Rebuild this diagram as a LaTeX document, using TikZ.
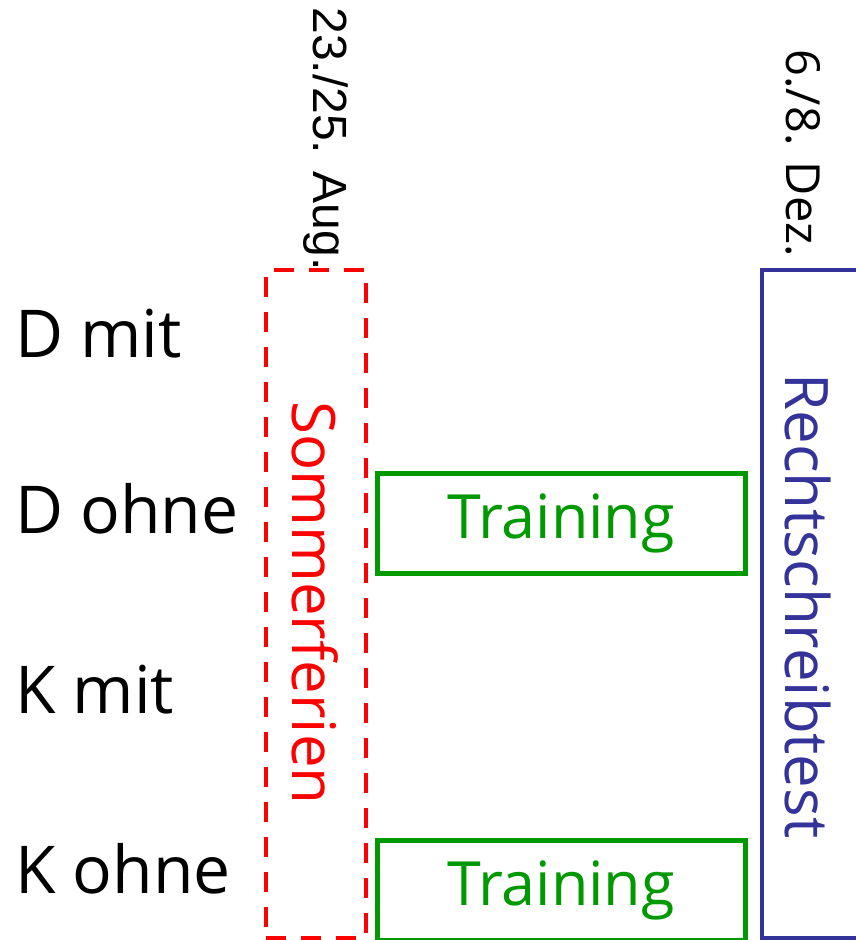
\documentclass[tikz,border=0pt]{standalone}
\usepackage{fontspec}
\setmainfont{Open Sans}
\newfontfamily\arialfont{Liberation Sans}
\definecolor{redc}{RGB}{255,0,0}
\definecolor{greenc}{RGB}{0,153,0}
\definecolor{bluec}{RGB}{51,51,153}
\begin{document}
\begin{tikzpicture}[x=1pt,y=-1pt,
  rowlabel/.style={anchor=base west,inner sep=0pt,font=\fontsize{66}{72}\selectfont},
  trainbox/.style={draw=greenc,line width=5pt,minimum width=368pt,minimum height=100pt,inner sep=0pt,text=greenc,font=\fontsize{61}{66}\selectfont},
  ferienbox/.style={draw=redc,line width=4.5pt,dash pattern=on 20pt off 15pt,minimum width=100pt,minimum height=668pt,inner sep=0pt},
  testbox/.style={draw=bluec,line width=4pt,minimum width=100pt,minimum height=668pt,inner sep=0pt},
  vlabel/.style={rotate=-90,inner sep=0pt}]
\useasboundingbox (0,0) rectangle (856,940);
\clip (0,0) rectangle (856,940);
\fill[white] (0,0) rectangle (856,940);
\node[rowlabel] (dmit) at (15,357) {D mit};
\node[rowlabel] (dohne) at (15,533) {D ohne};
\node[rowlabel] (kmit) at (15,713) {K mit};
\node[rowlabel] (kohne) at (15,893) {K ohne};
\node[ferienbox] (ferien) at (316,604) {};
\node[vlabel,text=redc,font=\fontsize{60}{66}\selectfont] (ferientext) at (315,603) {Sommerferien};
\node[testbox] (test) at (812,604) {};
\node[vlabel,text=bluec,font=\fontsize{60}{66}\selectfont] (testtext) at (808,606) {Rechtschreibtest};
\node[trainbox] (train1) at (561,523) {Training};
\node[trainbox] (train2) at (561,890) {\raisebox{-12pt}{Training}};
\node[vlabel,font=\arialfont\fontsize{48}{52}\selectfont] (aug) at (326,139) {23./25. Aug.};
\node[vlabel,font=\fontsize{47}{52}\selectfont] (dez) at (803,153) {6./8. Dez.};
\end{tikzpicture}
\end{document}
